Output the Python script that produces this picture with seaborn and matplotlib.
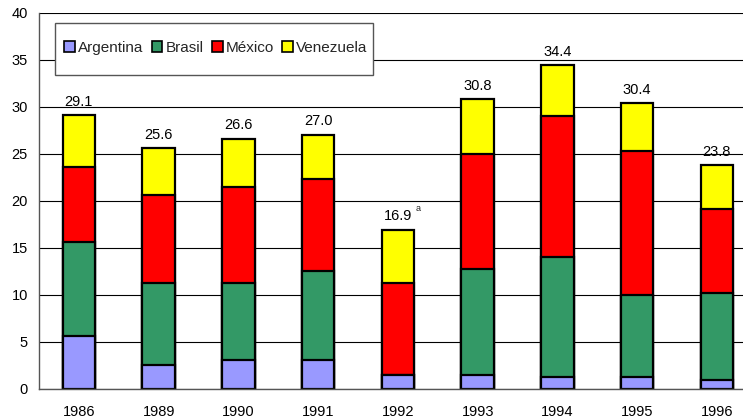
import matplotlib
matplotlib.use("Agg")
import matplotlib.pyplot as plt
from matplotlib.patches import Rectangle, Patch
import seaborn as sns
import pandas as pd

# data (percent)
years = ['1986', '1989', '1990', '1991', '1992', '1993', '1994', '1995', '1996']
argentina = [5.6, 2.5, 3.1, 3.1, 1.5, 1.5, 1.2, 1.2, 0.9]
brasil = [10.0, 8.7, 8.1, 9.4, 0.0, 11.2, 12.8, 8.8, 9.3]
mexico = [8.0, 9.4, 10.3, 9.8, 9.7, 12.3, 15.0, 15.3, 8.9]
venezuela = [5.5, 5.0, 5.1, 4.7, 5.7, 5.8, 5.4, 5.1, 4.7]
totals = ['29.1', '25.6', '26.6', '27.0', '16.9', '30.8', '34.4', '30.4', '23.8']

countries = ['Argentina', 'Brasil', 'México', 'Venezuela']
colors = ['#9999FF', '#339966', '#FF0000', '#FFFF00']

sns.set_theme(style='white')
plt.rcParams['font.family'] = ['Liberation Sans', 'DejaVu Sans']

df = pd.DataFrame({'year': years, 'Argentina': argentina, 'Brasil': brasil,
                   'México': mexico, 'Venezuela': venezuela})
# cumulative heights, drawn from the top layer down
cum = df[countries].cumsum(axis=1)

fig = plt.figure(figsize=(7.43, 4.19), dpi=100)
ax = fig.add_axes([0.0525, 0.0723, 0.966, 0.8974])

for c, col in reversed(list(zip(countries, colors))):
    sns.barplot(x=df['year'], y=cum[c], order=years, color=col, width=0.41,
                edgecolor='black', linewidth=1.6, saturation=1, ax=ax, zorder=3)

ax.set_ylim(0, 40)
ax.set_xlim(-0.5, 8.5)
ax.set_yticks(range(0, 41, 5))
ax.set_xticks([i - 0.5 for i in range(10)], minor=True)
ax.tick_params(axis='x', which='major', length=0, pad=12, labelsize=10.5, colors='black')
ax.tick_params(axis='x', which='minor', length=5, width=0.8, color='black', direction='out')
ax.tick_params(axis='y', length=5, width=0.8, color='black', direction='out', labelsize=10.5,
               pad=3, colors='black')
ax.set_xlabel('')
ax.set_ylabel('')
ax.yaxis.grid(True, color='black', linewidth=0.8)
ax.set_axisbelow(True)
for s in ['top', 'right']:
    ax.spines[s].set_visible(False)
for s in ['left', 'bottom']:
    ax.spines[s].set_color('#555555')
    ax.spines[s].set_linewidth(1.0)
    ax.spines[s].set_zorder(4)

# totals above the bars
tops = cum['Venezuela'].tolist()
for i, (t, lab) in enumerate(zip(tops, totals)):
    ax.text(i, t + 1.0, lab, ha='center', va='baseline', fontsize=10.5, color='black')
ax.annotate('a', xy=(4, tops[4] + 1.0), xytext=(13, 7), textcoords='offset points',
            fontsize=6.5, ha='left', va='baseline')

# legend in a single row with its own box
handles = [Patch(facecolor=col, edgecolor='black', linewidth=1.2, label=c)
           for c, col in zip(countries, colors)]
ax.legend(handles=handles, loc='center left', bbox_to_anchor=(0.0265, 0.907), ncol=4,
          frameon=False, fontsize=11, handlelength=0.7, handleheight=0.7,
          handletextpad=0.2, columnspacing=0.55, borderaxespad=0)
ax.add_patch(Rectangle((0.0223, 0.8343), 0.443, 0.1383, transform=ax.transAxes,
                       facecolor='white', edgecolor='#555555', linewidth=1.0, zorder=5))
ax.get_legend().set_zorder(6)

fig.savefig('out.png', dpi=100)
